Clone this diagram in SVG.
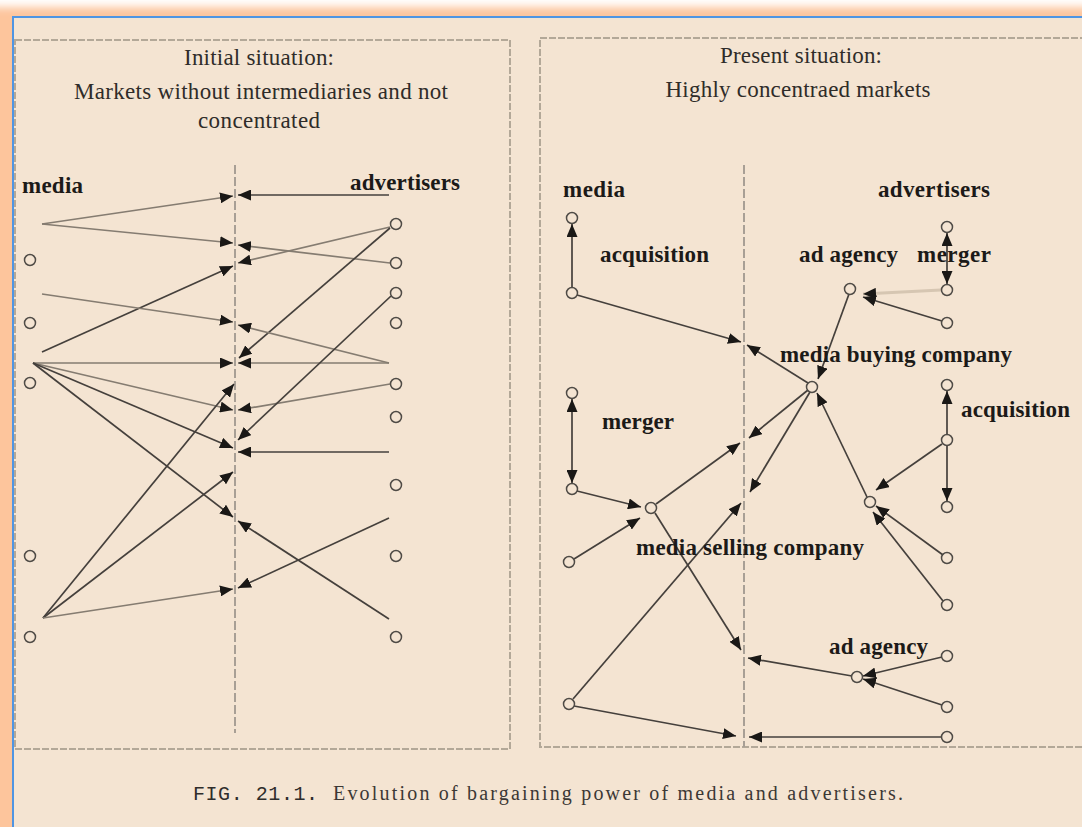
<svg xmlns="http://www.w3.org/2000/svg" width="1082" height="827" viewBox="0 0 1082 827">
  <defs>
    <filter id="glow" x="-5%" y="-5%" width="110%" height="110%">
      <feGaussianBlur stdDeviation="4"/>
    </filter>
    <marker id="ah" markerUnits="userSpaceOnUse" markerWidth="13" markerHeight="11" refX="13" refY="5.5" orient="auto-start-reverse">
      <path d="M0,0 L13,5.5 L0,11 z" fill="#1a1816"/>
    </marker>
    <style>
      .title { font-family: "Liberation Serif", "Times New Roman", serif; font-size: 23px; fill: #2f2c29; text-anchor: middle; }
      .lbl { font-family: "Liberation Serif", "Times New Roman", serif; font-size: 23px; font-weight: bold; fill: #1c1a18; }
      .cap { font-family: "Liberation Serif", "Times New Roman", serif; font-size: 20px; fill: #3c3835; }
      .capno { font-family: "Liberation Mono", "Courier New", monospace; font-size: 20px; fill: #2f2d2b; }
      .frame { fill: none; stroke: #b3a898; stroke-width: 2; stroke-dasharray: 7 2; }
      .axis { stroke: #a89f95; stroke-width: 2; stroke-dasharray: 9 3; }
      .n { fill: none; stroke: #4f4b46; stroke-width: 1.5; }
      .d { fill: none; stroke: #45403c; stroke-width: 1.7; marker-end: url(#ah); }
      .l { fill: none; stroke: #857c71; stroke-width: 1.7; marker-end: url(#ah); }
      .both { marker-start: url(#ah); }
      .pale { fill: none; stroke: #d6c6b2; stroke-width: 3; marker-end: url(#ah); }
    </style>
  </defs>

  <!-- page, glow and window edge -->
  <rect x="0" y="0" width="1082" height="827" fill="#ffffff"/>
  <rect x="-40" y="7" width="1160" height="880" fill="#fdc59c" filter="url(#glow)"/>
  <rect x="13" y="17" width="1069" height="810" fill="#f4e4d2"/>
  <line x1="13" y1="16" x2="13" y2="827" stroke="#4f95e3" stroke-width="2"/>
  <line x1="12" y1="17" x2="1082" y2="17" stroke="#4f95e3" stroke-width="2"/>

  <!-- panels -->
  <rect class="frame" x="15" y="40" width="495" height="709"/>
  <rect class="frame" x="540" y="38" width="560" height="709"/>
  <line class="axis" x1="235" y1="165" x2="235" y2="733"/>
  <line class="axis" x1="744" y1="165" x2="744" y2="747"/>

  <!-- headings -->
  <g id="heading-left">
    <text class="title" x="259" y="65" textLength="150">Initial situation:</text>
    <text class="title" x="261" y="99" textLength="374">Markets without intermediaries and not</text>
    <text class="title" x="259" y="128" textLength="122">concentrated</text>
    <text class="lbl" x="22" y="193" textLength="61">media</text>
    <text class="lbl" x="350" y="190" textLength="110">advertisers</text>
  </g>
  <g id="heading-right">
    <text class="title" x="801" y="63" textLength="162">Present situation:</text>
    <text class="title" x="798" y="97" textLength="265">Highly concentraed markets</text>
    <text class="lbl" x="563" y="197" textLength="62">media</text>
    <text class="lbl" x="878" y="197" textLength="112">advertisers</text>
  </g>

  <!-- connectors -->
  <g id="connectors">
    <!-- initial situation -->
    <path class="l" d="M42,224 L233,196"/>
    <path class="d" d="M389,195 L238,195"/>
    <path class="l" d="M42,224 L233,243"/>
    <path class="l" d="M390,263 L238,245"/>
    <path class="l" d="M390,227 L238,263"/>
    <path class="d" d="M42,352 L233,266"/>
    <path class="d" d="M390,228 L239,358"/>
    <path class="l" d="M42,294 L233,322"/>
    <path class="l" d="M389,363 L238,325"/>
    <path class="l" d="M33,363 L233,363"/>
    <path class="l" d="M389,363 L238,363"/>
    <path class="l" d="M33,363 L233,410"/>
    <path class="l" d="M390,384 L238,410"/>
    <path class="d" d="M33,363 L233,448"/>
    <path class="d" d="M389,452 L238,452"/>
    <path class="d" d="M33,363 L233,517"/>
    <path class="d" d="M389,619 L238,521"/>
    <path class="d" d="M391,296 L238,440"/>
    <path class="d" d="M43,618 L234,384"/>
    <path class="d" d="M43,618 L233,472"/>
    <path class="l" d="M43,618 L233,589"/>
    <path class="d" d="M389,518 L238,588"/>

    <!-- present situation -->
    <path class="d" d="M572,287 L572,224"/>
    <path class="d" d="M577,295 L741,342"/>
    <path class="d" d="M808,383 L747,345"/>
    <path class="d" d="M849,294 L818,379"/>
    <path class="pale" d="M941,290 L863,294"/>
    <path class="d" d="M942,321 L863,297"/>
    <path class="d both" d="M947,233 L947,284"/>
    <path class="d both" d="M572,399 L572,483"/>
    <path class="d" d="M577,491 L641,507"/>
    <path class="d" d="M574,559 L640,518"/>
    <path class="d" d="M656,504 L740,443"/>
    <path class="d" d="M808,390 L749,438"/>
    <path class="d" d="M573,699 L741,503"/>
    <path class="d" d="M810,392 L750,492"/>
    <path class="d" d="M867,497 L817,393"/>
    <path class="d" d="M947,435 L947,391"/>
    <path class="d" d="M947,446 L947,501"/>
    <path class="d" d="M942,444 L876,490"/>
    <path class="d" d="M943,555 L876,506"/>
    <path class="d" d="M943,601 L873,512"/>
    <path class="d" d="M655,513 L741,650"/>
    <path class="d" d="M852,676 L748,658"/>
    <path class="d" d="M942,657 L863,676"/>
    <path class="d" d="M942,705 L863,679"/>
    <path class="d" d="M574,706 L736,736"/>
    <path class="d" d="M942,737 L749,737"/>
  </g>

  <!-- initial situation: media -->
  <g id="m1"><circle class="n" cx="30" cy="260" r="5.5"/></g>
  <g id="m2"><circle class="n" cx="30" cy="323" r="5.5"/></g>
  <g id="m3"><circle class="n" cx="30" cy="383" r="5.5"/></g>
  <g id="m4"><circle class="n" cx="30" cy="556" r="5.5"/></g>
  <g id="m5"><circle class="n" cx="30" cy="637" r="5.5"/></g>
  <!-- initial situation: advertisers -->
  <g id="a1"><circle class="n" cx="396" cy="224" r="5.5"/></g>
  <g id="a2"><circle class="n" cx="396" cy="263" r="5.5"/></g>
  <g id="a3"><circle class="n" cx="396" cy="293" r="5.5"/></g>
  <g id="a4"><circle class="n" cx="396" cy="323" r="5.5"/></g>
  <g id="a5"><circle class="n" cx="396" cy="384" r="5.5"/></g>
  <g id="a6"><circle class="n" cx="396" cy="417" r="5.5"/></g>
  <g id="a7"><circle class="n" cx="396" cy="485" r="5.5"/></g>
  <g id="a8"><circle class="n" cx="396" cy="556" r="5.5"/></g>
  <g id="a9"><circle class="n" cx="396" cy="637" r="5.5"/></g>

  <!-- present situation: media -->
  <g id="pm1"><circle class="n" cx="572" cy="218" r="5.5"/></g>
  <g id="pm2"><circle class="n" cx="572" cy="293" r="5.5"/><text class="lbl" x="600" y="262" textLength="109">acquisition</text></g>
  <g id="pm3"><circle class="n" cx="572" cy="393" r="5.5"/><text class="lbl" x="602" y="429" textLength="72">merger</text></g>
  <g id="pm4"><circle class="n" cx="572" cy="489" r="5.5"/></g>
  <g id="pm5"><circle class="n" cx="569" cy="562" r="5.5"/></g>
  <g id="pm6"><circle class="n" cx="569" cy="704" r="5.5"/></g>

  <!-- present situation: intermediaries -->
  <g id="media-selling"><circle class="n" cx="651" cy="508" r="5.5"/><text class="lbl" x="636" y="555" textLength="228">media selling company</text></g>
  <g id="media-buying"><circle class="n" cx="812" cy="387" r="5.5"/><text class="lbl" x="780" y="362" textLength="232">media buying company</text></g>
  <g id="agency-top"><circle class="n" cx="850" cy="289" r="5.5"/><text class="lbl" x="799" y="262" textLength="99">ad agency</text></g>
  <g id="agency-bottom"><circle class="n" cx="857" cy="677" r="5.5"/><text class="lbl" x="829" y="654" textLength="99">ad agency</text></g>
  <g id="acquirer"><circle class="n" cx="870" cy="502" r="5.5"/></g>

  <!-- present situation: advertisers -->
  <g id="pa1"><circle class="n" cx="947" cy="227" r="5.5"/><text class="lbl" x="917" y="262" textLength="74">merger</text></g>
  <g id="pa2"><circle class="n" cx="947" cy="290" r="5.5"/></g>
  <g id="pa3"><circle class="n" cx="947" cy="323" r="5.5"/></g>
  <g id="pa4"><circle class="n" cx="947" cy="385" r="5.5"/><text class="lbl" x="961" y="417" textLength="109">acquisition</text></g>
  <g id="pa5"><circle class="n" cx="947" cy="440" r="5.5"/></g>
  <g id="pa6"><circle class="n" cx="947" cy="507" r="5.5"/></g>
  <g id="pa7"><circle class="n" cx="947" cy="558" r="5.5"/></g>
  <g id="pa8"><circle class="n" cx="947" cy="605" r="5.5"/></g>
  <g id="pa9"><circle class="n" cx="947" cy="656" r="5.5"/></g>
  <g id="pa10"><circle class="n" cx="947" cy="707" r="5.5"/></g>
  <g id="pa11"><circle class="n" cx="947" cy="737" r="5.5"/></g>

  <!-- caption -->
  <g id="caption">
    <text class="capno" x="193" y="800" textLength="125">FIG. 21.1.</text>
    <text class="cap" x="333" y="800" textLength="570">Evolution of bargaining power of media and advertisers.</text>
  </g>
</svg>
